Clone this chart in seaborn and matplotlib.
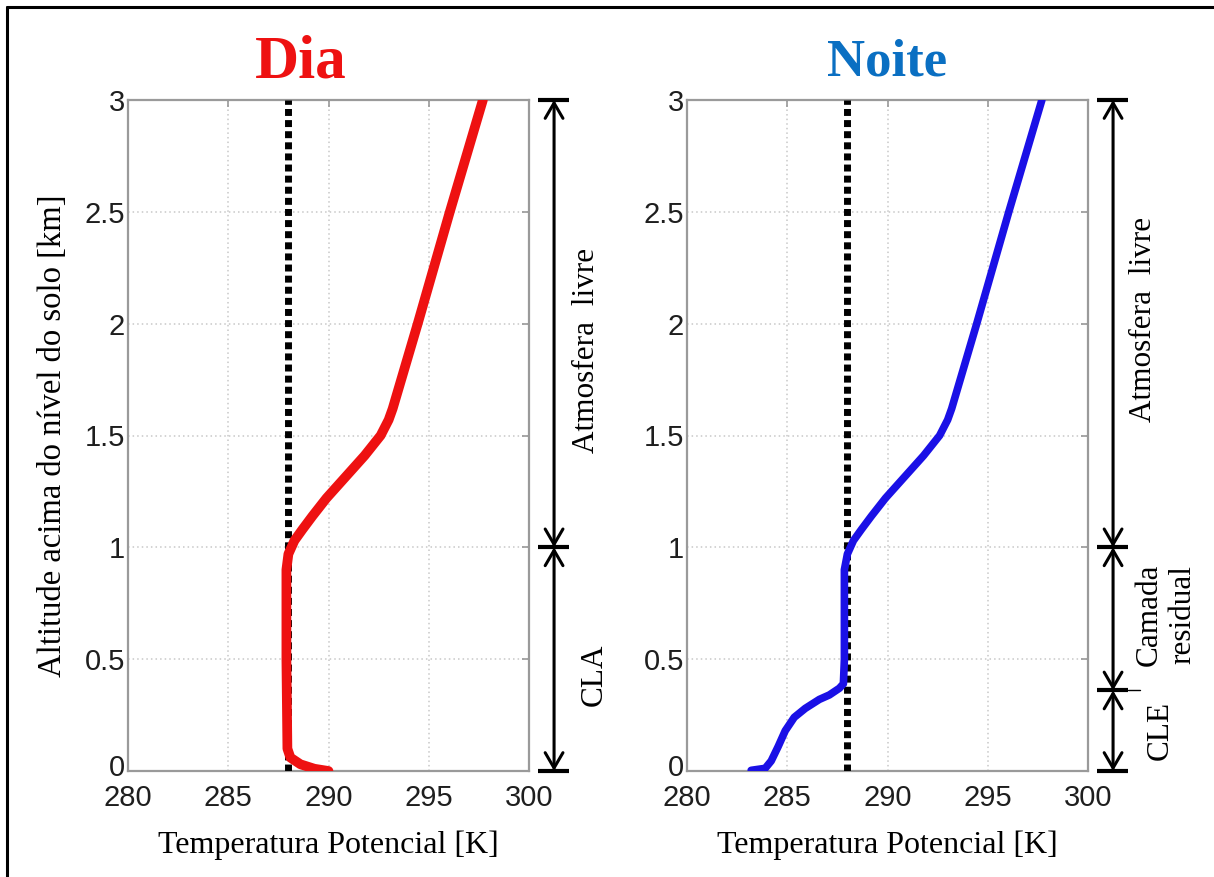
import matplotlib
matplotlib.use("Agg")
import matplotlib.pyplot as plt
import matplotlib.transforms as mtransforms
import seaborn as sns
import pandas as pd
from matplotlib.lines import Line2D

# ---------------- data ----------------
dia_theta = [290.0, 289.3, 288.6, 288.1, 287.95, 287.9, 287.9, 288.0, 288.3, 288.7,
             289.2, 289.9, 290.8, 291.8, 292.6, 293.0, 293.2, 294.45, 296.05, 297.7]
dia_z = [0.0, 0.01, 0.03, 0.06, 0.1, 0.5, 0.9, 0.97, 1.03, 1.08,
         1.14, 1.22, 1.31, 1.41, 1.5, 1.57, 1.62, 2.0, 2.5, 3.0]

noite_theta = [283.2, 283.9, 284.2, 284.55, 284.9, 285.35, 285.9, 286.6, 287.1, 287.6,
               287.8, 287.85, 287.85, 288.0, 288.3, 288.7, 289.2, 289.9, 290.8, 291.8,
               292.6, 293.0, 293.2, 294.45, 296.05, 297.7]
noite_z = [0.003, 0.012, 0.045, 0.11, 0.18, 0.24, 0.28, 0.32, 0.34, 0.37,
           0.39, 0.5, 0.9, 0.97, 1.03, 1.08, 1.14, 1.22, 1.31, 1.41,
           1.5, 1.57, 1.62, 2.0, 2.5, 3.0]

ref_theta = 288.0          # dashed reference (adiabatic) line
dia_levels = [0.0, 1.0, 3.0]
noite_levels = [0.0, 0.36, 1.0, 3.0]

x_ticks = [280, 285, 290, 295, 300]
y_ticks = [0, 0.5, 1, 1.5, 2, 2.5, 3]
y_ticklabels = ["0", "0.5", "1", "1.5", "2", "2.5", "3"]

# ---------------- style ----------------
sns.set_theme(style="white")
plt.rcParams['font.family'] = ['Liberation Sans', 'DejaVu Sans']

W, H = 1214, 877
fig = plt.figure(figsize=(W / 100, H / 100), dpi=100)
fig.patch.set_facecolor("white")

def px2fig(x0, y0, x1, y1):
    return [x0 / W, 1 - y1 / H, (x1 - x0) / W, (y1 - y0) / H]

ax1 = fig.add_axes(px2fig(128, 100, 529, 771))
ax2 = fig.add_axes(px2fig(687, 100, 1088, 771))

serif = ['Liberation Serif', 'DejaVu Serif']
grid_col = "#c8c8c8"
spine_col = "#9a9a9a"

def style_axes(ax):
    ax.set_xlim(280, 300)
    ax.set_ylim(0, 3)
    ax.set_xticks(x_ticks)
    ax.set_xticklabels([str(t) for t in x_ticks])
    ax.set_yticks(y_ticks)
    ax.set_yticklabels(y_ticklabels)
    ax.grid(True, linestyle=(0, (1, 2)), color=grid_col, linewidth=1.1)
    for s in ax.spines.values():
        s.set_color(spine_col)
        s.set_linewidth(1.6)
    ax.tick_params(axis="both", which="both", direction="in", length=5, width=1.2,
                   color=spine_col, top=True, right=True, labelsize=21,
                   labelcolor="#1e1e1e", pad=2)
    ax.tick_params(axis="x", pad=9)
    ax.set_xlabel("Temperatura Potencial [K]", fontfamily=serif, fontsize=23,
                  color="black", labelpad=14)
    # nudge the "0" y label slightly upward so it does not touch the x labels
    lab0 = ax.get_yticklabels()[0]
    lab0.set_transform(lab0.get_transform() +
                       mtransforms.ScaledTranslation(0, 4 / 72, fig.dpi_scale_trans))

df_dia = pd.DataFrame({"theta": dia_theta, "z": dia_z})
df_noite = pd.DataFrame({"theta": noite_theta, "z": noite_z})

for ax, df, col, lw in [(ax1, df_dia, "#ee1111", 7.0), (ax2, df_noite, "#1a10e6", 5.5)]:
    ax.plot([ref_theta, ref_theta], [0, 3], color="black", lw=5,
            linestyle=(0, (1, 0.6)), dash_capstyle="butt", zorder=3)
    sns.lineplot(data=df, x="theta", y="z", sort=False, estimator=None,
                 color=col, lw=lw, ax=ax, zorder=4)
    style_axes(ax)

ax1.set_ylabel("Altitude acima do nível do solo [km]", fontfamily=serif,
               fontsize=23.5, color="black", labelpad=12)
ax2.set_ylabel("")

# titles
fig.text(301 / W, 1 - 62 / H, "Dia", color="#ee1111", fontsize=44, fontweight="bold",
         fontfamily=serif, ha="center", va="center")
fig.text(887 / W, 1 - 62 / H, "Noite", color="#0a6fc2", fontsize=38, fontweight="bold",
         fontfamily=serif, ha="center", va="center")

# layer arrows and labels
def layer_marks(ax, levels, xa, xb0, xb1):
    for lv in levels:
        ax.plot([xb0, xb1], [lv, lv], color="black", lw=3, clip_on=False,
                solid_capstyle="butt")
    for lo, hi in zip(levels[:-1], levels[1:]):
        ax.annotate("", xy=(xa, hi), xytext=(xa, lo), annotation_clip=False,
                    arrowprops=dict(arrowstyle="<->,head_length=0.55,head_width=0.32",
                                    lw=2.2, color="black", shrinkA=0, shrinkB=0,
                                    mutation_scale=20))

layer_marks(ax1, dia_levels, 301.25, 300.45, 302.0)
layer_marks(ax2, noite_levels, 301.25, 300.45, 302.0)
ax2.plot([302.0, 302.6], [0.36, 0.36], color="black", lw=1, clip_on=False)

tkw = dict(fontfamily=serif, fontsize=22.5, rotation=90, ha="center", va="center",
           color="black", clip_on=False)
ax1.text(302.85, 1.88, "Atmosfera  livre", **tkw)
ax1.text(303.25, 0.43, "CLA", **tkw)
ax2.text(302.75, 2.02, "Atmosfera  livre", **tkw)
ax2.text(303.9, 0.70, "Camada\nresidual", linespacing=1.2, **tkw)
ax2.text(303.6, 0.18, "CLE", **tkw)

# outer frame (top and left edges)
fig.add_artist(Line2D([7 / W, 7 / W], [0, 1 - 7 / H], color="black", lw=2.2,
                      transform=fig.transFigure))
fig.add_artist(Line2D([7 / W, 1], [1 - 7 / H, 1 - 7 / H], color="black", lw=2.2,
                      transform=fig.transFigure))

fig.savefig("out.png", dpi=100, facecolor="white")
